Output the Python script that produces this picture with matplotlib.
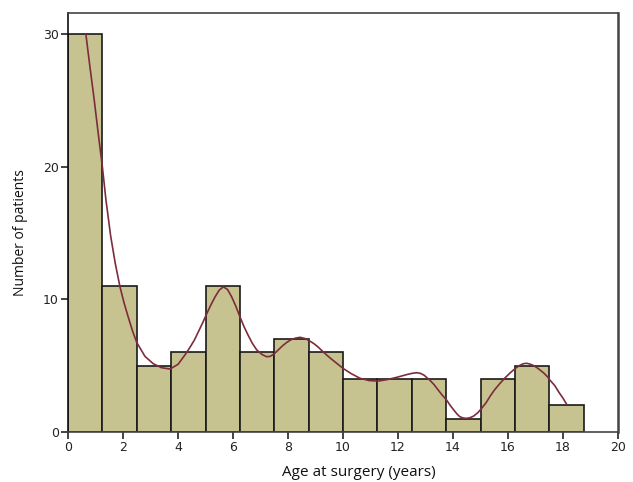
import matplotlib
matplotlib.use("Agg")
import matplotlib.pyplot as plt
import numpy as np

# Histogram data (bin width 1.25 years)
bin_edges = [0, 1.25, 2.5, 3.75, 5.0, 6.25, 7.5, 8.75, 10.0, 11.25, 12.5, 13.75, 15.0, 16.25, 17.5, 18.75]
counts = [30, 11, 5, 6, 11, 6, 7, 6, 4, 4, 4, 1, 4, 5, 2]

# Smooth curve
curve_x = [0.65, 0.8, 0.95, 1.1, 1.25, 1.38, 1.55, 1.72, 1.89, 2.05, 2.2, 2.35, 2.5, 2.8, 3.1, 3.4,
           3.71, 4.0, 4.25, 4.44, 4.6, 4.75, 4.9, 5.04, 5.2, 5.35, 5.5, 5.65, 5.8, 5.95, 6.1,
           6.25, 6.4, 6.55, 6.7, 6.86, 7.05, 7.22, 7.35, 7.5, 7.65, 7.8, 7.95, 8.1, 8.27, 8.44,
           8.62, 8.8, 8.95, 9.1, 9.25, 9.41, 9.55, 9.7, 9.85, 10.0, 10.3, 10.62, 10.95, 11.28,
           11.6, 11.95, 12.3, 12.5, 12.68, 12.82, 12.95, 13.05, 13.16, 13.3, 13.45, 13.6, 13.77,
           13.9, 14.05, 14.15, 14.25, 14.38, 14.5, 14.62, 14.75, 14.9, 15.04, 15.2, 15.35, 15.5,
           15.71, 15.9, 16.1, 16.3, 16.45, 16.56, 16.68, 16.8, 16.92, 17.04, 17.15, 17.3, 17.42,
           17.53, 17.7, 17.85, 18.0, 18.13]
curve_y = [30.0, 27.5, 25.1, 22.5, 20.0, 17.5, 14.8, 12.7, 10.95, 9.65, 8.6, 7.6, 6.75, 5.7, 5.15, 4.85,
           4.75, 5.1, 5.8, 6.4, 6.95, 7.6, 8.25, 8.9, 9.6, 10.2, 10.7, 10.95, 10.75, 10.2, 9.5,
           8.7, 7.95, 7.3, 6.7, 6.2, 5.85, 5.68, 5.7, 5.9, 6.2, 6.5, 6.75, 6.95, 7.08, 7.14,
           7.05, 6.85, 6.65, 6.4, 6.1, 5.8, 5.55, 5.3, 5.05, 4.8, 4.4, 4.05, 3.88, 3.84,
           3.95, 4.12, 4.32, 4.42, 4.47, 4.42, 4.28, 4.1, 3.9, 3.6, 3.2, 2.8, 2.4,
           2.0, 1.6, 1.35, 1.15, 1.05, 1.03, 1.08, 1.2, 1.45, 1.78, 2.2, 2.7, 3.15,
           3.67, 4.1, 4.5, 4.85, 5.05, 5.15, 5.18, 5.12, 5.02, 4.87, 4.7, 4.45, 4.2,
           3.9, 3.5, 3.0, 2.55, 2.1]

x_ticks = [0, 2, 4, 6, 8, 10, 12, 14, 16, 18, 20]
y_ticks = [0, 10, 20, 30]

fig = plt.figure(figsize=(6.33, 4.82), dpi=100)
ax = fig.add_axes([68/633, 50/482, 550/633, 419/482])

lefts = bin_edges[:-1]
widths = np.diff(bin_edges)
ax.bar(lefts, counts, width=widths, align='edge', color='#c6c390',
       edgecolor='#1a1a1a', linewidth=1.2, zorder=2)
ax.plot(curve_x, curve_y, color='#7d2c3c', linewidth=1.2, zorder=3,
        solid_joinstyle='round')

ax.set_xlim(0, 20)
ax.set_ylim(0, 31.6)
ax.set_xticks(x_ticks)
ax.set_yticks(y_ticks)
ax.tick_params(axis='both', direction='out', length=5, width=1.2, color='#222222',
               labelsize=9, labelcolor='#222222', pad=1.5)
for s in ax.spines.values():
    s.set_color('#444444')
    s.set_linewidth(1.2)
ax.spines['right'].set_linewidth(1.8)
ax.spines['left'].set_color('#111111')

ax.set_xlabel('Age at surgery (years)', fontsize=11, family='Open Sans', color='#111111')
ax.set_ylabel('Number of patients', fontsize=10, family='Open Sans', color='#111111')
ax.xaxis.set_label_coords(0.529, -0.078)
ax.yaxis.set_label_coords(-0.072, 0.475)

fig.savefig('out.png', dpi=100)
